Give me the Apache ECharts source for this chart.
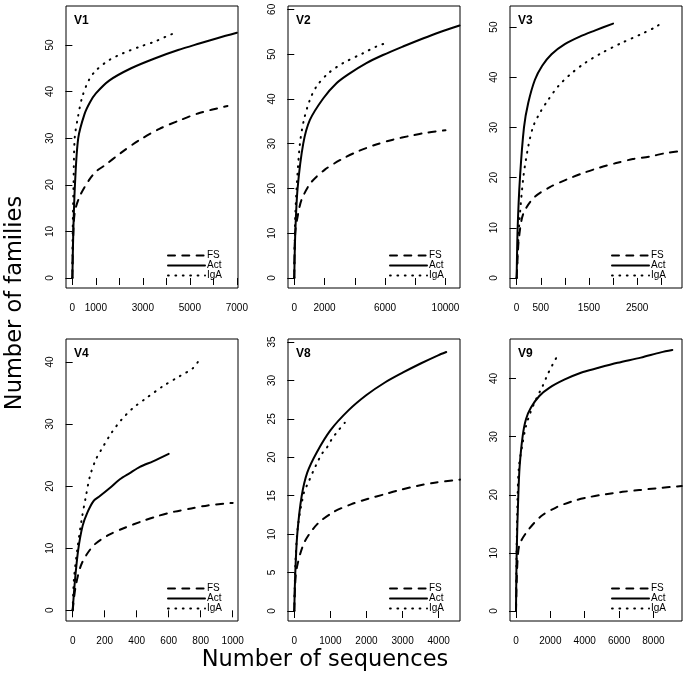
<!DOCTYPE html>
<html>
<head>
<meta charset="utf-8">
<script src="https://cdn.jsdelivr.net/npm/echarts@6/dist/echarts.min.js"></script>
<style>html,body{margin:0;padding:0;background:#fff;}#chart{width:685px;height:683px;}</style>
</head>
<body>
<div id="chart"></div>
<script>
// ---- data ----
const panelNames = ['V1', 'V2', 'V3', 'V4', 'V8', 'V9'];
const seriesNames = ['FS', 'Act', 'IgA'];

const v1FsX = [0, 30, 100, 311, 707, 1018, 1330, 2080, 2857, 3706, 4554, 5403, 6600];
const v1FsY = [0, 8, 14, 17.5, 21, 22.9, 24, 26.9, 29.6, 32, 33.8, 35.4, 36.9];
const v1ActX = [0, 40, 110, 250, 520, 750, 1000, 1580, 2500, 3500, 4500, 5400, 6200, 7000];
const v1ActY = [0, 10, 20, 30, 35.2, 37.7, 39.6, 42.4, 45, 47.1, 48.9, 50.3, 51.5, 52.6];
const v1IgaX = [0, 15, 50, 99, 240, 424, 707, 1018, 1584, 2150, 2857, 3494, 3989, 4270];
const v1IgaY = [0, 10, 20, 30, 34.6, 38.9, 42.5, 44.6, 46.8, 48.2, 49.6, 50.7, 51.8, 52.4];

const v2FsX = [0, 60, 264, 484, 1077, 2022, 3121, 4220, 5319, 6527, 7736, 8835, 10000];
const v2FsY = [0, 10, 14.5, 17.5, 21.2, 24.2, 26.5, 28.3, 29.7, 30.9, 31.8, 32.5, 33.0];
const v2ActX = [0, 66, 220, 593, 1033, 1912, 2791, 3670, 4769, 5868, 7187, 8505, 9604, 10930];
const v2ActY = [0, 10, 20, 30, 35.3, 40.1, 43.5, 45.7, 48, 49.8, 51.7, 53.5, 54.9, 56.4];
const v2IgaX = [0, 50, 154, 374, 637, 1033, 1473, 2242, 3231, 4549, 5429, 6190];
const v2IgaY = [0, 12, 20, 30, 35.3, 39.8, 42.8, 45.7, 48, 50.2, 51.7, 52.6];

const v3FsX = [0, 20, 48, 138, 358, 689, 1033, 1377, 1722, 2066, 2410, 2755, 3099, 3430];
const v3FsY = [0, 4, 8, 12.8, 16, 18.1, 19.6, 20.9, 22, 22.9, 23.7, 24.2, 24.9, 25.3];
const v3ActX = [0, 21, 69, 152, 241, 379, 530, 723, 999, 1309, 1618, 2000];
const v3ActY = [0, 10, 20, 30, 34.9, 39.5, 42.3, 44.6, 46.6, 48.1, 49.3, 50.7];
const v3IgaX = [0, 48, 138, 241, 344, 482, 654, 861, 1102, 1412, 1756, 2169, 2583, 2900, 3050];
const v3IgaY = [0, 10, 20, 26.2, 30.2, 32.9, 35.5, 38.2, 40.5, 42.8, 44.8, 46.8, 48.6, 50.1, 51.2];

const v4FsX = [0, 19, 56, 129, 222, 326, 429, 533, 637, 741, 844, 1000];
const v4FsY = [0, 3.9, 7.5, 10.4, 12.1, 13.3, 14.3, 15.2, 15.9, 16.4, 16.9, 17.3];
const v4ActX = [0, 15, 35, 62, 91, 130, 170, 232, 295, 357, 420, 502, 600];
const v4ActY = [0, 5, 9.8, 13.6, 15.7, 17.6, 18.4, 19.7, 21.1, 22.1, 23.1, 24, 25.2];
const v4IgaX = [0, 8, 29, 56, 83, 108, 145, 191, 243, 305, 378, 461, 564, 668, 751, 790];
const v4IgaY = [0, 5, 9.8, 14.6, 18.4, 21.6, 24.3, 26.4, 28.6, 30.7, 32.6, 34.2, 36.1, 37.7, 39, 40.3];

const v8FsX = [0, 20, 65, 276, 636, 1097, 1585, 2046, 2507, 2968, 3429, 3889, 4590];
const v8FsY = [0, 3, 5.5, 8.9, 11.3, 12.9, 13.9, 14.6, 15.2, 15.8, 16.3, 16.7, 17.1];
const v8ActX = [0, 28, 83, 203, 359, 618, 1000, 1500, 2000, 2500, 3000, 3500, 4000, 4210];
const v8ActY = [0, 5, 10, 14.9, 18, 20.6, 23.5, 26.1, 28.1, 29.7, 31.0, 32.2, 33.3, 33.7];
const v8IgaX = [0, 30, 100, 267, 387, 525, 636, 756, 894, 1032, 1171, 1309, 1400];
const v8IgaY = [0, 6, 11, 15.4, 16.7, 18.2, 19.3, 20.4, 21.2, 22.3, 23.2, 24, 24.5];

const v9FsX = [0, 40, 97, 213, 678, 1453, 2326, 3295, 4264, 5233, 6202, 7171, 8140, 9651];
const v9FsY = [0, 5, 9, 11.5, 13.8, 16.3, 17.8, 18.9, 19.6, 20.1, 20.5, 20.8, 21.1, 21.5];
const v9ActX = [0, 39, 136, 213, 388, 581, 872, 1357, 1938, 2810, 3779, 4748, 5911, 7267, 8430, 9100];
const v9ActY = [0, 10, 20, 24.9, 30.1, 33, 35, 37, 38.4, 39.8, 41, 41.8, 42.7, 43.6, 44.5, 44.9];
const v9IgaX = [0, 30, 97, 174, 388, 581, 833, 1163, 1550, 1841, 2132, 2390];
const v9IgaY = [0, 9, 20, 24.9, 28.9, 31.8, 34.1, 36.4, 38.7, 40.7, 42.4, 43.8];

// tick values and tick labels
const v1XTicks = [0, 1000, 2000, 3000, 4000, 5000, 6000, 7000];
const v1XLabels = [0, 1000, 3000, 5000, 7000];
const v1YTicks = [0, 10, 20, 30, 40, 50];
const v2XTicks = [0, 2000, 4000, 6000, 8000, 10000];
const v2XLabels = [0, 2000, 6000, 10000];
const v2YTicks = [0, 10, 20, 30, 40, 50, 60];
const v3XTicks = [0, 500, 1000, 1500, 2000, 2500, 3000];
const v3XLabels = [0, 500, 1500, 2500];
const v3YTicks = [0, 10, 20, 30, 40, 50];
const v4XTicks = [0, 200, 400, 600, 800, 1000];
const v4XLabels = [0, 200, 400, 600, 800, 1000];
const v4YTicks = [0, 10, 20, 30, 40];
const v8XTicks = [0, 1000, 2000, 3000, 4000];
const v8XLabels = [0, 1000, 2000, 3000, 4000];
const v8YTicks = [0, 5, 10, 15, 20, 25, 30, 35];
const v9XTicks = [0, 2000, 4000, 6000, 8000];
const v9XLabels = [0, 2000, 4000, 6000, 8000];
const v9YTicks = [0, 10, 20, 30, 40];

const xTitle = 'Number of sequences';
const yTitle = 'Number of families';

// ---- assemble ----
const panelData = [
  {fs: [v1FsX, v1FsY], act: [v1ActX, v1ActY], iga: [v1IgaX, v1IgaY], xt: v1XTicks, xl: v1XLabels, yt: v1YTicks},
  {fs: [v2FsX, v2FsY], act: [v2ActX, v2ActY], iga: [v2IgaX, v2IgaY], xt: v2XTicks, xl: v2XLabels, yt: v2YTicks},
  {fs: [v3FsX, v3FsY], act: [v3ActX, v3ActY], iga: [v3IgaX, v3IgaY], xt: v3XTicks, xl: v3XLabels, yt: v3YTicks},
  {fs: [v4FsX, v4FsY], act: [v4ActX, v4ActY], iga: [v4IgaX, v4IgaY], xt: v4XTicks, xl: v4XLabels, yt: v4YTicks},
  {fs: [v8FsX, v8FsY], act: [v8ActX, v8ActY], iga: [v8IgaX, v8IgaY], xt: v8XTicks, xl: v8XLabels, yt: v8YTicks},
  {fs: [v9FsX, v9FsY], act: [v9ActX, v9ActY], iga: [v9IgaX, v9IgaY], xt: v9XTicks, xl: v9XLabels, yt: v9YTicks}
];

// layout (pixels) and axis extents
const colLeft = [66, 288, 510];
const rowTop = [6, 339];
const gw = 172, gh = 282;
const xRange = [[-271, 7048], [-415, 10960], [-138, 3430], [-41.7, 1033], [-174, 4591], [-349, 9663]];
const yRange = [[-2.14, 58.35], [-2.23, 60.75], [-2.0, 54.2], [-1.72, 43.7], [-1.30, 35.39], [-1.72, 46.8]];

const labelFont = 'Liberation Sans';
const styleFS = {color: '#000', width: 2, type: [7, 7.3], cap: 'round', join: 'round'};
const styleAct = {color: '#000', width: 2, type: 'solid', cap: 'round', join: 'round'};
const styleIgA = {color: '#000', width: 2, type: [0.8, 6.6], cap: 'round', join: 'round'};

function zip(xs, ys) { return xs.map((x, i) => [x, ys[i]]); }
const fmt = v => String(v);

const grids = [], xAxes = [], yAxes = [], series = [], titles = [], legends = [];
panelData.forEach((p, i) => {
  const left = colLeft[i % 3], top = rowTop[Math.floor(i / 3)];
  grids.push({left: left, top: top, width: gw, height: gh, show: true, borderColor: '#000', borderWidth: 1, backgroundColor: 'transparent', containLabel: false});
  xAxes.push({
    type: 'value', gridIndex: i, min: xRange[i][0], max: xRange[i][1],
    axisLine: {show: false}, splitLine: {show: false},
    axisTick: {show: true, customValues: p.xt, length: 7, inside: false, lineStyle: {color: '#000', width: 1}},
    axisLabel: {show: true, customValues: p.xl, formatter: fmt, margin: 15, fontSize: 10, fontFamily: labelFont, color: '#000'}
  });
  yAxes.push({
    type: 'value', gridIndex: i, min: yRange[i][0], max: yRange[i][1],
    axisLine: {show: false}, splitLine: {show: false},
    axisTick: {show: true, customValues: p.yt, length: 7, inside: false, lineStyle: {color: '#000', width: 1}},
    axisLabel: {show: true, customValues: p.yt, formatter: fmt, rotate: 90, margin: 11, fontSize: 10, fontFamily: labelFont, color: '#000'}
  });
  const common = {type: 'line', xAxisIndex: i, yAxisIndex: i, symbol: 'none', showSymbol: false, smooth: 0.3, clip: true, silent: true, animation: false};
  series.push(Object.assign({}, common, {name: 'FS', data: zip(p.fs[0], p.fs[1]), lineStyle: styleFS}));
  series.push(Object.assign({}, common, {name: 'Act', data: zip(p.act[0], p.act[1]), lineStyle: styleAct}));
  series.push(Object.assign({}, common, {name: 'IgA', data: zip(p.iga[0], p.iga[1]), lineStyle: styleIgA}));
  titles.push({text: panelNames[i], left: left + 8, top: top + 9, padding: 0,
    textStyle: {fontSize: 12, fontWeight: 'bold', fontFamily: labelFont, color: '#000'}});
  legends.push({
    data: seriesNames, orient: 'vertical', left: left + gw - 71, top: top + gh - 37.5,
    itemWidth: 37, itemHeight: 9.7, itemGap: 0, padding: 0, selectedMode: false,
    itemStyle: {opacity: 0, color: 'transparent', borderWidth: 0},
    lineStyle: {width: 2},
    textStyle: {fontSize: 10, fontFamily: labelFont, color: '#000', lineHeight: 9.7, padding: [0, 0, 0, -3]}
  });
});

const chart = echarts.init(document.getElementById('chart'), null, {renderer: 'canvas'});
chart.setOption({
  animation: false,
  backgroundColor: '#fff',
  title: titles,
  legend: legends,
  grid: grids,
  xAxis: xAxes,
  yAxis: yAxes,
  series: series,
  graphic: [
    {type: 'text', x: 325, y: 660, silent: true,
     style: {text: xTitle, fontSize: 22.5, fontFamily: 'DejaVu Sans', fill: '#000', align: 'center', verticalAlign: 'middle'}},
    {type: 'text', x: 15, y: 303, rotation: Math.PI / 2, silent: true,
     style: {text: yTitle, fontSize: 22.5, fontFamily: 'DejaVu Sans', fill: '#000', align: 'center', verticalAlign: 'middle'}}
  ]
});
</script>
</body>
</html>
